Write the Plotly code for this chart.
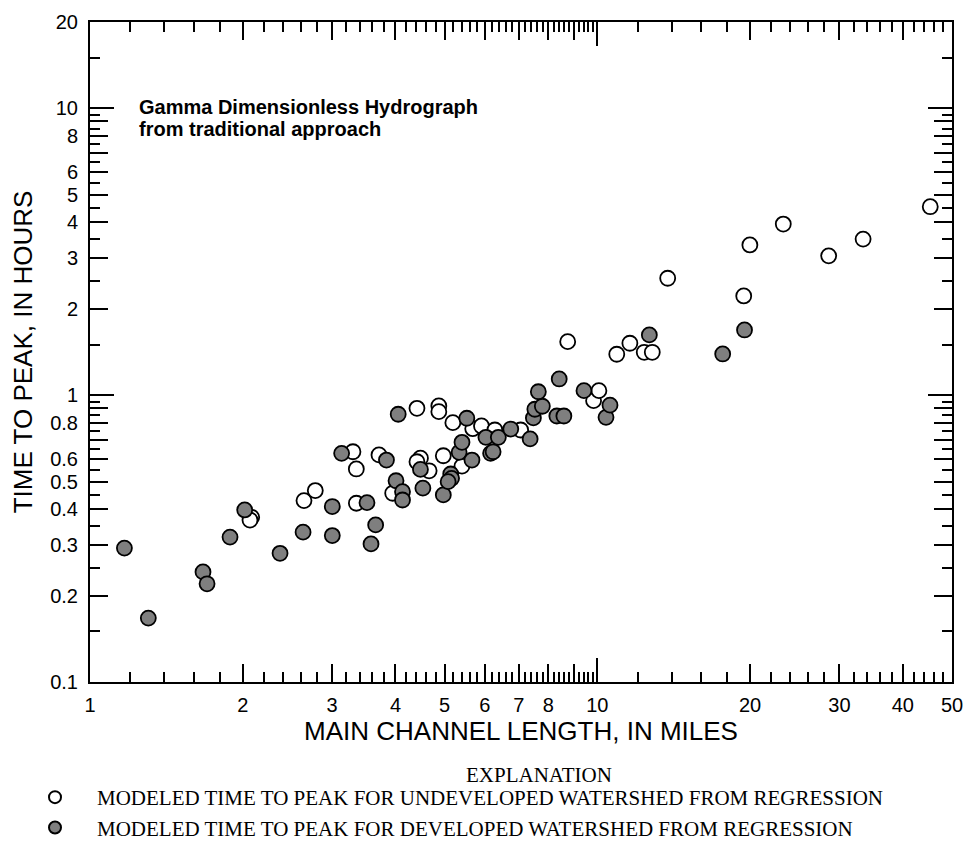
import plotly.graph_objects as go

# ---- data ----
undev_x = [2.083, 2.067, 2.641, 2.78, 3.298, 3.349, 3.35, 3.712, 3.95, 4.41, 4.48, 4.41, 4.66,
           4.87, 4.87, 4.97, 5.19, 5.41, 5.68, 5.91, 6.28, 7.06, 8.74, 9.83, 10.07, 10.92,
           11.59, 12.37, 12.83, 13.76, 19.43, 19.98, 23.25, 28.57, 33.4, 45.3]
undev_y = [0.375, 0.367, 0.429, 0.465, 0.635, 0.553, 0.420, 0.619, 0.455, 0.900, 0.603, 0.586, 0.545,
           0.917, 0.876, 0.615, 0.802, 0.566, 0.764, 0.781, 0.756, 0.756, 1.537, 0.957, 1.037, 1.389,
           1.517, 1.411, 1.411, 2.556, 2.218, 3.34, 3.95, 3.06, 3.50, 4.54]

dev_x = [1.169, 1.303, 1.670, 1.701, 1.888, 2.018, 2.369, 2.63, 3.003, 3.003, 3.133, 3.515, 3.656,
         3.58, 3.84, 4.01, 4.05, 4.13, 4.13, 4.48, 4.53, 4.97, 5.14, 5.16, 5.08, 5.34, 5.41, 5.53,
         5.66, 6.03, 6.16, 6.23, 6.38, 6.75, 7.37, 7.48, 7.53, 7.79, 7.65, 8.32, 8.59, 8.41, 9.41,
         10.4, 10.59, 12.66, 17.66, 19.5]
dev_y = [0.293, 0.167, 0.242, 0.220, 0.320, 0.398, 0.281, 0.333, 0.409, 0.324, 0.627, 0.422, 0.353,
         0.303, 0.594, 0.503, 0.858, 0.461, 0.431, 0.551, 0.474, 0.449, 0.531, 0.513, 0.4995, 0.632,
         0.685, 0.831, 0.594, 0.713, 0.627, 0.635, 0.713, 0.762, 0.704, 0.833, 0.893, 0.915, 1.028,
         0.846, 0.846, 1.139, 1.037, 0.837, 0.923, 1.622, 1.392, 1.688]

# major (labelled / medium) ticks
x_tickvals = [1, 2, 3, 4, 5, 6, 7, 8, 9, 10, 20, 30, 40, 50]
x_ticktext = ["1", "2", "3", "4", "5", "6", "7", "8", "", "10", "20", "30", "40", "50"]
y_tickvals = [0.1, 0.2, 0.3, 0.4, 0.5, 0.6, 0.7, 0.8, 0.9, 1, 2, 3, 4, 5, 6, 7, 8, 9, 10, 20]
y_ticktext = ["0.1", "0.2", "0.3", "0.4", "0.5", "0.6", "", "0.8", "", "1",
              "2", "3", "4", "5", "6", "", "8", "", "10", "20"]
# long decade ticks
x_decades = [10]
y_decades = [1, 10]

# short minor ticks
x_minor = ([round(d + k * 0.2, 2) for d in range(1, 10) for k in range(1, 5)]
           + [d + k * 2 for d in (10, 20, 30, 40) for k in range(1, 5)])
y_minor = ([round(0.1 * d + 0.05, 3) for d in range(1, 10)]
           + [d + 0.5 for d in range(1, 10)] + [15])

SANS = "Liberation Sans, Arial, sans-serif"
SERIF = "Liberation Serif, Times New Roman, serif"
TICKFONT = dict(family=SANS, size=20, color="black")
TITLEFONT = dict(family=SANS, size=26, color="black")

# The page body has an 8px margin, so the figure is shrunk by that amount
# and the plot area is placed so it lands at page pixels 90..952 x 22..682.
OFF = 8
W, H = 977 - OFF, 841 - OFF
L, T = 90 - OFF, 22 - OFF
PW, PH = 862, 660
R, B = W - L - PW, H - T - PH


def px(xp):  # page pixel x -> paper coordinate
    return (xp - OFF - L) / PW


def py(yp):  # page pixel y -> paper coordinate
    return (T + PH - (yp - OFF)) / PH


fig = go.Figure()
fig.add_trace(go.Scatter(
    x=undev_x, y=undev_y, mode="markers",
    name="MODELED TIME TO PEAK FOR UNDEVELOPED WATERSHED FROM REGRESSION",
    marker=dict(size=15, color="white", line=dict(color="black", width=1.8)),
))
fig.add_trace(go.Scatter(
    x=dev_x, y=dev_y, mode="markers",
    name="MODELED TIME TO PEAK FOR DEVELOPED WATERSHED FROM REGRESSION",
    marker=dict(size=15, color="#7f7f7f", line=dict(color="black", width=1.8)),
))
# invisible traces so the overlay tick axes get drawn
for xa, ya in (("x2", "y2"), ("x3", "y3")):
    fig.add_trace(go.Scatter(x=[None], y=[None], xaxis=xa, yaxis=ya, showlegend=False,
                             hoverinfo="skip"))

xr = [0, 1.69897]
yr = [-1, 1.30103]

TK = dict(ticks="inside", tickwidth=2, tickcolor="#000000", layer="above traces")


def overlay(base, rng, vals, length, anchor, side):
    return dict(type="log", range=rng, overlaying=base, anchor=anchor, side=side,
                showgrid=False, zeroline=False, showline=False, mirror="ticks",
                automargin=False, tickmode="array", tickvals=vals, ticklen=length,
                showticklabels=False, **TK)


fig.update_layout(
    template="none",
    width=W, height=H,
    margin=dict(l=L, r=R, t=T, b=B, autoexpand=False),
    paper_bgcolor="white", plot_bgcolor="white",
    showlegend=True,
    legend=dict(
        x=px(13), xanchor="left",
        y=py(777), yanchor="top",
        itemwidth=74,
        font=dict(family=SERIF, size=21, color="black"),
        itemsizing="constant", bgcolor="rgba(0,0,0,0)", borderwidth=0,
    ),
    xaxis=dict(
        type="log", range=xr, showgrid=False, zeroline=False, automargin=False,
        showline=True, linecolor="black", linewidth=2, mirror="ticks",
        tickmode="array", tickvals=x_tickvals, ticktext=x_ticktext, ticklen=18,
        tickfont=TICKFONT, ticklabelstandoff=4, **TK,
        title=dict(text="MAIN CHANNEL LENGTH, IN MILES", font=TITLEFONT, standoff=6),
    ),
    yaxis=dict(
        type="log", range=yr, showgrid=False, zeroline=False, automargin=False,
        showline=True, linecolor="black", linewidth=2, mirror="ticks",
        tickmode="array", tickvals=y_tickvals, ticktext=y_ticktext, ticklen=18,
        tickfont=TICKFONT, ticklabelstandoff=6, **TK,
        title=dict(text="TIME TO PEAK, IN HOURS", font=TITLEFONT, standoff=12),
    ),
    xaxis2=overlay("x", xr, x_minor, 10, "y", "bottom"),
    yaxis2=overlay("y", yr, y_minor, 10, "x", "left"),
    xaxis3=overlay("x", xr, x_decades, 24, "y", "bottom"),
    yaxis3=overlay("y", yr, y_decades, 24, "x", "left"),
    annotations=[
        dict(text="<b>Gamma Dimensionless Hydrograph</b>",
             xref="paper", yref="paper", x=px(137), y=py(107),
             xanchor="left", yanchor="middle", align="left", showarrow=False,
             font=dict(family=SANS, size=20, color="black")),
        dict(text="<b>from traditional approach</b>",
             xref="paper", yref="paper", x=px(137), y=py(129),
             xanchor="left", yanchor="middle", align="left", showarrow=False,
             font=dict(family=SANS, size=20, color="black")),
        dict(text="EXPLANATION", xref="paper", yref="paper",
             x=px(538.5), y=py(774.5),
             xanchor="center", yanchor="middle", showarrow=False,
             font=dict(family=SERIF, size=21, color="black")),
    ],
)

fig.write_html("out.html")
